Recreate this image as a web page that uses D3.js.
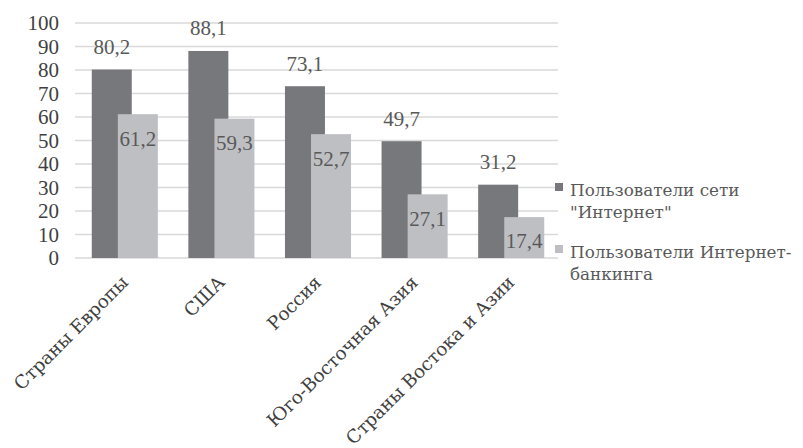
<!DOCTYPE html>
<html><head><meta charset="utf-8">
<script src="https://cdn.jsdelivr.net/npm/d3@7"></script>
<style>body{margin:0;background:#fff}svg{display:block}</style>
</head><body>
<script>
const categories = ["Страны Европы","США","Россия","Юго-Восточная Азия","Страны Востока и Азии"];
const internetUsers = [80.2, 88.1, 73.1, 49.7, 31.2];
const bankingUsers = [61.2, 59.3, 52.7, 27.1, 17.4];
const seriesNames = [["Пользователи сети", "\"Интернет\""], ["Пользователи Интернет-", "банкинга"]];
const yTicks = [0,10,20,30,40,50,60,70,80,90,100];
const colors = ["#77787c", "#bebfc3"];

const NUM_FONT = '"Liberation Serif", serif';
const TXT_FONT = '"DejaVu Serif", serif';

const W = 803, H = 448;
const svg = d3.select("body").append("svg").attr("width", W).attr("height", H);
svg.append("rect").attr("width", W).attr("height", H).attr("fill", "#fff");

const x = d3.scaleBand().domain(categories).range([76.5, 559.5]).padding(0);
const y = d3.scaleLinear().domain([0, 100]).range([258, 23]);
const bw = x.bandwidth();
const barW = bw * 0.414;
const off = bw * 0.135;

// gridlines
svg.append("g").selectAll("line").data(yTicks).join("line")
  .attr("x1", 75).attr("x2", 558)
  .attr("y1", d => y(d)).attr("y2", d => y(d))
  .attr("stroke", "#d9d9d9").attr("stroke-width", 1.5);

// y axis
const yAxis = svg.append("g").attr("transform", "translate(75,0)")
  .call(d3.axisLeft(y).tickValues(yTicks).tickSize(0).tickPadding(16).tickFormat(d3.format("d")));
yAxis.select(".domain").remove();
yAxis.selectAll("text").attr("font-size", 21).attr("fill", "#3f3f3f").style("font-family", NUM_FONT);

const series = [internetUsers, bankingUsers];
series.forEach((vals, si) => {
  const cx = c => x(c) + bw / 2 + (si === 0 ? -off : off);
  svg.append("g").selectAll("rect").data(categories).join("rect")
    .attr("x", c => cx(c) - barW / 2)
    .attr("width", barW)
    .attr("y", (c, i) => y(vals[i]))
    .attr("height", (c, i) => y(0) - y(vals[i]))
    .attr("fill", colors[si]);
});
series.forEach((vals, si) => {
  const cx = c => x(c) + bw / 2 + (si === 0 ? -off : off);
  svg.append("g").selectAll("text").data(categories).join("text")
    .attr("x", cx)
    .attr("y", (c, i) => si === 0 ? y(vals[i]) - 23 : y(vals[i]) + 24)
    .attr("dy", "0.35em")
    .attr("text-anchor", "middle")
    .attr("font-size", 21)
    .attr("fill", "#595959")
    .style("font-family", NUM_FONT)
    .text((c, i) => String(vals[i]).replace(".", ","));
});

// x labels
const xAxis = svg.append("g").attr("transform", "translate(0,258)")
  .call(d3.axisBottom(x).tickSize(0).tickPadding(0));
xAxis.select(".domain").remove();
xAxis.selectAll(".tick text")
  .attr("font-size", 18.3).attr("fill", "#404040").style("font-family", TXT_FONT)
  .attr("text-anchor", "end")
  .attr("transform", "translate(0,21) rotate(-45)")
  .attr("dy", "0.35em").attr("y", 0);

// legend
const legY = [191, 253];
seriesNames.forEach((lines, i) => {
  const g = svg.append("g");
  g.append("rect").attr("x", 555).attr("y", legY[i] - 8).attr("width", 8).attr("height", 8).attr("fill", colors[i]);
  lines.forEach((t, j) => {
    g.append("text").attr("x", 570).attr("y", legY[i] + 5 + j * 22)
      .attr("font-size", 16.8).attr("fill", "#595959").style("font-family", TXT_FONT).text(t);
  });
});
</script>
</body></html>
